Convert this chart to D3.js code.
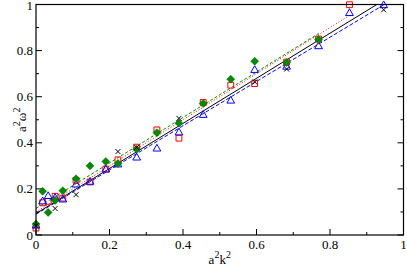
<!DOCTYPE html>
<html>
<head>
<meta charset="utf-8">
<script src="https://d3js.org/d3.v7.min.js"></script>
<style>
  body { margin: 0; padding: 0; background: #ffffff; }
  text { font-family: "Liberation Serif", "DejaVu Serif", serif; fill: #000; }
</style>
</head>
<body>
<div id="chart"></div>
<script>
// values (a^2 k^2 , a^2 omega^2)
var redX   = [0, 0.018, 0.033, 0.052, 0.073, 0.109, 0.147, 0.19, 0.223, 0.274, 0.329, 0.389, 0.455, 0.53, 0.595, 0.682, 0.769, 0.853];
var redY   = [0.03, 0.14, 0.146, 0.168, 0.16, 0.237, 0.23, 0.286, 0.326, 0.381, 0.456, 0.42, 0.575, 0.65, 0.657, 0.75, 0.85, 0.999];
var blueX  = [0, 0.018, 0.033, 0.052, 0.073, 0.109, 0.147, 0.19, 0.223, 0.274, 0.329, 0.389, 0.455, 0.53, 0.595, 0.682, 0.769, 0.853, 0.946];
var blueY  = [0.04, 0.145, 0.168, 0.16, 0.153, 0.218, 0.23, 0.283, 0.305, 0.335, 0.374, 0.444, 0.52, 0.582, 0.715, 0.729, 0.818, 0.962, 0.996];
var greenX = [0, 0.018, 0.033, 0.052, 0.073, 0.109, 0.147, 0.19, 0.223, 0.274, 0.329, 0.389, 0.455, 0.53, 0.595, 0.682, 0.769];
var greenY = [0.048, 0.19, 0.098, 0.15, 0.192, 0.244, 0.30, 0.319, 0.31, 0.372, 0.444, 0.485, 0.571, 0.676, 0.754, 0.748, 0.848];
var blackX = [0, 0.052, 0.109, 0.223, 0.274, 0.389, 0.595, 0.682, 0.946];
var blackY = [0.04, 0.115, 0.175, 0.362, 0.38, 0.506, 0.664, 0.72, 0.977];

// fitted straight lines: [intercept, slope, x end]
var blackFit = [0.093, 0.978, 0.946];
var blueFit  = [0.09, 0.96, 0.946];
var redFit   = [0.10, 1.0, 0.853];
var greenFit = [0.115, 0.987, 0.769];

var xTicks = [0, 0.2, 0.4, 0.6, 0.8, 1];
var yTicks = [0, 0.2, 0.4, 0.6, 0.8, 1];
var xTickLabels = ["0", "0.2", "0.4", "0.6", "0.8", "1"];
var yTickLabels = ["0", "0.2", "0.4", "0.6", "0.8", "1"];

var width = 407, height = 266;
var margin = { top: 4.5, right: 3.5, bottom: 31, left: 36 };

var svg = d3.select("#chart").append("svg")
    .attr("width", width).attr("height", height);

var x = d3.scaleLinear().domain([0, 1]).range([margin.left, width - margin.right]);
var y = d3.scaleLinear().domain([0, 1]).range([height - margin.bottom, margin.top]);

svg.append("clipPath").attr("id", "clip")
  .append("rect")
    .attr("x", margin.left - 4).attr("y", margin.top - 4)
    .attr("width", x(1) - x(0) + 8).attr("height", y(0) - y(1) + 8);
svg.append("clipPath").attr("id", "clipLines")
  .append("rect")
    .attr("x", margin.left).attr("y", margin.top)
    .attr("width", x(1) - x(0)).attr("height", y(0) - y(1));

// ticks, inward on left, bottom and right
var minor = d3.range(0, 1.0001, 0.1);
var tk = svg.append("g").attr("stroke", "#000").attr("stroke-width", 1);
minor.forEach(function(v, i) {
  var len = (i % 2 == 0) ? 6 : 3;
  tk.append("line").attr("x1", x(v)).attr("x2", x(v)).attr("y1", y(0)).attr("y2", y(0) - len);
  tk.append("line").attr("x1", x(0)).attr("x2", x(0) + len).attr("y1", y(v)).attr("y2", y(v));
  tk.append("line").attr("x1", x(1)).attr("x2", x(1) - len).attr("y1", y(v)).attr("y2", y(v));
});

xTicks.forEach(function(v, i) {
  svg.append("text").attr("x", x(v)).attr("y", y(0) + 13.5)
    .attr("text-anchor", "middle").attr("font-size", 13).text(xTickLabels[i]);
});
yTicks.forEach(function(v, i) {
  svg.append("text").attr("x", x(0) - 3).attr("y", Math.max(y(v) + 4.5, 10))
    .attr("text-anchor", "end").attr("font-size", 13).text(yTickLabels[i]);
});

// fit lines
var lines = svg.append("g").attr("clip-path", "url(#clipLines)");
var line = d3.line().x(function(d) { return x(d[0]); }).y(function(d) { return y(d[1]); });
function fitLine(f, color, dash) {
  lines.append("path")
    .datum([[0, f[0]], [f[2], f[0] + f[1] * f[2]]])
    .attr("d", line).attr("fill", "none")
    .attr("stroke", color).attr("stroke-width", 1)
    .attr("stroke-dasharray", dash);
}
fitLine(greenFit, "#008b00", "3,2");
fitLine(redFit, "#ff0000", "1,2");
fitLine(blueFit, "#0000ff", "4,2");
fitLine(blackFit, "#000000", null);

// markers
var plot = svg.append("g").attr("clip-path", "url(#clip)");
var sq = d3.symbol().type(d3.symbolSquare).size(34);
var tri = d3.symbol().type(d3.symbolTriangle).size(26);

function pts(xs, ys) { return xs.map(function(v, i) { return [v, ys[i]]; }); }
function at(d) { return "translate(" + x(d[0]) + "," + y(d[1]) + ")"; }

plot.selectAll(".red").data(pts(redX, redY)).enter().append("path")
  .attr("d", sq).attr("transform", at)
  .attr("fill", "none").attr("stroke", "#ff0000").attr("stroke-width", 1);

plot.selectAll(".blue").data(pts(blueX, blueY)).enter().append("path")
  .attr("d", tri).attr("transform", at)
  .attr("fill", "none").attr("stroke", "#0000ff").attr("stroke-width", 1);

plot.selectAll(".green").data(pts(greenX, greenY)).enter().append("path")
  .attr("d", "M0,-4L4,0L0,4L-4,0Z").attr("transform", at)
  .attr("fill", "#008b00").attr("stroke", "#006400").attr("stroke-width", 0.5);

plot.selectAll(".black").data(pts(blackX, blackY)).enter().append("path")
  .attr("d", "M-2.5,-2.5L2.5,2.5M-2.5,2.5L2.5,-2.5").attr("transform", at)
  .attr("fill", "none").attr("stroke", "#000").attr("stroke-width", 1);

// frame
svg.append("rect")
  .attr("x", x(0)).attr("y", y(1))
  .attr("width", x(1) - x(0)).attr("height", y(0) - y(1))
  .attr("fill", "none").attr("stroke", "#000").attr("stroke-width", 1.2);

// axis titles
var xt = svg.append("text").attr("x", x(0.5)).attr("y", height - 2)
  .attr("text-anchor", "middle").attr("font-size", 13);
xt.append("tspan").text("a");
xt.append("tspan").attr("dy", -6).attr("font-size", 10).text("2");
xt.append("tspan").attr("dy", 6).text("k");
xt.append("tspan").attr("dy", -6).attr("font-size", 10).text("2");

var yt = svg.append("text").attr("transform", "translate(26," + y(0.5) + ") rotate(-90)")
  .attr("text-anchor", "middle").attr("font-size", 13);
yt.append("tspan").text("a");
yt.append("tspan").attr("dy", -6).attr("font-size", 10).text("2");
yt.append("tspan").attr("dy", 6).text("ω");
yt.append("tspan").attr("dy", -6).attr("font-size", 10).text("2");
</script>
</body>
</html>
